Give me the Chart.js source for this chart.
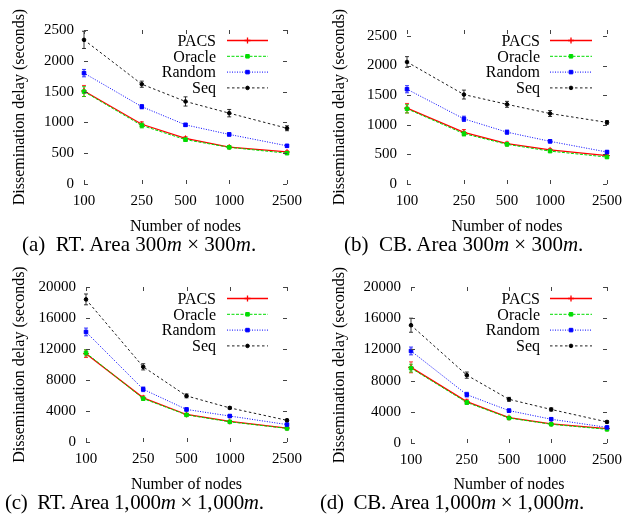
<!DOCTYPE html>
<html>
<head>
<meta charset="utf-8">
<script src="https://cdn.jsdelivr.net/npm/chart.js@4.4.0/dist/chart.umd.min.js"></script>
<style>
    body { margin: 0; background: #fff; width: 630px; height: 516px; position: relative; overflow: hidden; font-family: 'Liberation Serif', serif; }
    canvas { position: absolute; }
    .cap { position: absolute; font-size: 21px; line-height: 21px; white-space: nowrap; color: #000; }
    .cap i { font-style: italic; }
    .cap.wide { letter-spacing: -0.3px; }
    .cap .gap { margin-left: 1px; }
</style>
</head>
<body>
<canvas id="chartA" width="315" height="236" style="left:0;top:0"></canvas>
<canvas id="chartB" width="315" height="236" style="left:315px;top:0"></canvas>
<canvas id="chartC" width="315" height="236" style="left:0;top:258px"></canvas>
<canvas id="chartD" width="315" height="236" style="left:315px;top:258px"></canvas>

<div class="cap" style="left:22px;top:234px">(a)&nbsp; RT. Area 300<i>m</i> × 300<i>m</i>.</div>
<div class="cap" style="left:344px;top:234px">(b)&nbsp; CB. Area 300<i>m</i> × 300<i>m</i>.</div>
<div class="cap wide" style="left:5px;top:492px">(c)&nbsp; RT. Area 1,<span class="gap">000</span><i>m</i> × 1,<span class="gap">000</span><i>m</i>.</div>
<div class="cap wide" style="left:320px;top:492px">(d)&nbsp; CB. Area 1,<span class="gap">000</span><i>m</i> × 1,<span class="gap">000</span><i>m</i>.</div>

<script>
const nodeCounts = [100, 250, 500, 1000, 2500];
const seriesNames = ['PACS', 'Oracle', 'Random', 'Seq'];
const delayTicksSmall = [0, 500, 1000, 1500, 2000, 2500];
const delayTicksLarge = [0, 4000, 8000, 12000, 16000, 20000];

// (a) RT, 300m x 300m
const rt300Pacs = [1510, 970, 740, 600, 520];
const rt300Oracle = [1500, 950, 720, 595, 500];
const rt300Random = [1800, 1255, 960, 805, 620];
const rt300Seq = [2340, 1620, 1340, 1150, 905];
const rt300PacsErr = [90, 40, 30, 25, 20];
const rt300OracleErr = [80, 40, 30, 20, 20];
const rt300RandomErr = [60, 35, 25, 25, 20];
const rt300SeqErr = [140, 50, 75, 60, 40];

// (b) CB, 300m x 300m
const cb300Pacs = [1280, 870, 680, 575, 480];
const cb300Oracle = [1270, 850, 670, 555, 455];
const cb300Random = [1600, 1100, 875, 720, 540];
const cb300Seq = [2060, 1510, 1345, 1190, 1040];
const cb300PacsErr = [80, 50, 30, 25, 20];
const cb300OracleErr = [70, 40, 30, 20, 20];
const cb300RandomErr = [60, 45, 35, 25, 20];
const cb300SeqErr = [90, 75, 50, 50, 30];

// (c) RT, 1000m x 1000m
const rt1000Pacs = [11400, 5700, 3550, 2650, 1800];
const rt1000Oracle = [11500, 5600, 3500, 2600, 1750];
const rt1000Random = [14200, 6800, 4200, 3350, 2250];
const rt1000Seq = [18400, 9700, 5950, 4400, 2800];
const rt1000PacsErr = [500, 250, 150, 100, 80];
const rt1000OracleErr = [400, 200, 150, 100, 80];
const rt1000RandomErr = [500, 300, 200, 150, 100];
const rt1000SeqErr = [700, 400, 250, 150, 150];

// (d) CB, 1000m x 1000m
const cb1000Pacs = [9700, 5300, 3250, 2450, 1850];
const cb1000Oracle = [9600, 5200, 3200, 2400, 1750];
const cb1000Random = [11800, 6200, 4150, 3050, 2000];
const cb1000Seq = [15100, 8700, 5600, 4300, 2700];
const cb1000PacsErr = [700, 300, 150, 100, 80];
const cb1000OracleErr = [500, 250, 150, 100, 80];
const cb1000RandomErr = [500, 300, 200, 150, 100];
const cb1000SeqErr = [900, 400, 250, 200, 150];

const seriesStyles = [
    { color: '#ff0000', dash: [], point: 'cross', radius: 3, width: 1.3 },
    { color: '#00dd00', dash: [3, 1.5], point: 'rect', radius: 2.5, width: 1 },
    { color: '#0000ff', dash: [1, 1.5], point: 'rect', radius: 2.5, width: 1 },
    { color: '#000000', dash: [2.5, 2.5], point: 'circle', radius: 1.8, width: 0.9 }
];

const serif = "'Liberation Serif', 'Times New Roman', serif";

// gnuplot-like mirrored inner ticks, error bars and key
const gnuplotDecor = {
    id: 'gnuplotDecor',
    beforeDatasetsDraw(chart) {
        const ctx = chart.ctx;
        const x = chart.scales.x, y = chart.scales.y;
        ctx.save();
        chart.data.datasets.forEach((ds) => {
            ctx.strokeStyle = ds.borderColor;
            ctx.lineWidth = 0.8;
            ds.errors.forEach((e, i) => {
                const px = x.getPixelForValue(nodeCounts[i]);
                const lo = y.getPixelForValue(ds.data[i] - e);
                const hi = y.getPixelForValue(ds.data[i] + e);
                ctx.beginPath();
                ctx.moveTo(px, lo); ctx.lineTo(px, hi);
                ctx.moveTo(px - 2, lo); ctx.lineTo(px + 2, lo);
                ctx.moveTo(px - 2, hi); ctx.lineTo(px + 2, hi);
                ctx.stroke();
            });
        });
        ctx.restore();
    },
    afterDraw(chart) {
        const ctx = chart.ctx;
        const area = chart.chartArea;
        const x = chart.scales.x, y = chart.scales.y;
        ctx.save();
        ctx.strokeStyle = '#444';
        ctx.lineWidth = 1;
        ctx.beginPath();
        y.ticks.forEach(t => {
            const py = Math.round(y.getPixelForValue(t.value)) + 0.5;
            ctx.moveTo(area.left, py); ctx.lineTo(area.left + 4, py);
            ctx.moveTo(area.right, py); ctx.lineTo(area.right - 4, py);
        });
        x.ticks.forEach(t => {
            const px = Math.round(x.getPixelForValue(t.value)) + 0.5;
            ctx.moveTo(px, area.bottom); ctx.lineTo(px, area.bottom - 4);
            ctx.moveTo(px, area.top); ctx.lineTo(px, area.top + 4);
        });
        ctx.stroke();

        // key
        const key = chart.options.plugins.gnuplotDecor;
        ctx.font = '16px ' + serif;
        ctx.textAlign = 'right';
        ctx.textBaseline = 'middle';
        chart.data.datasets.forEach((ds, i) => {
            const ry = key.rowTop + i * key.rowGap;
            ctx.fillStyle = '#000';
            ctx.fillText(ds.label, key.textRight, ry + 1);
            ctx.strokeStyle = ds.borderColor;
            ctx.lineWidth = ds.borderWidth;
            ctx.setLineDash(ds.borderDash);
            ctx.beginPath();
            ctx.moveTo(key.sampleLeft, ry); ctx.lineTo(key.sampleRight, ry);
            ctx.stroke();
            ctx.setLineDash([]);
            ctx.fillStyle = ds.borderColor;
            Chart.helpers.drawPoint(ctx, {
                pointStyle: ds.pointStyle, radius: ds.pointRadius, rotation: 0, borderWidth: 1
            }, (key.sampleLeft + key.sampleRight) / 2, ry);
        });
        ctx.restore();
    }
};

function makePanel(canvasId, values, errors, yTicks, yMax, geo) {
    const datasets = seriesNames.map((name, i) => {
        const s = seriesStyles[i];
        return {
            label: name,
            data: values[i],
            errors: errors[i],
            borderColor: s.color,
            backgroundColor: s.color,
            borderWidth: s.width,
            borderDash: s.dash,
            pointStyle: s.point,
            pointRadius: s.radius,
            pointBorderWidth: 1,
            tension: 0,
            order: seriesNames.length - i,
            clip: false
        };
    });

    return new Chart(document.getElementById(canvasId), {
        type: 'line',
        data: { labels: nodeCounts, datasets: datasets },
        options: {
            responsive: false,
            animation: false,
            events: [],
            layout: {
                autoPadding: false,
                padding: { left: geo.padLeft, right: 315 - geo.right, top: geo.top, bottom: 0 }
            },
            plugins: {
                legend: { display: false },
                tooltip: { enabled: false },
                gnuplotDecor: {
                    textRight: geo.textRight, sampleLeft: geo.sampleLeft, sampleRight: geo.sampleRight,
                    rowTop: 40.5, rowGap: 15.8
                }
            },
            scales: {
                x: {
                    type: 'logarithmic',
                    min: 100,
                    max: 2500,
                    afterBuildTicks: (scale) => { scale.ticks = nodeCounts.map(v => ({ value: v })); },
                    afterFit: (scale) => { scale.height = 236 - geo.bottom; },
                    grid: { display: false, drawTicks: false },
                    border: { display: false },
                    ticks: {
                        autoSkip: false, maxRotation: 0, padding: 8, color: '#000',
                        font: { family: serif, size: 15 },
                        callback: (v) => String(v)
                    },
                    title: {
                        display: true, text: 'Number of nodes', color: '#000',
                        font: { family: serif, size: 16 }, padding: 0
                    }
                },
                y: {
                    min: 0,
                    max: yMax,
                    afterBuildTicks: (scale) => { scale.ticks = yTicks.map(v => ({ value: v })); },
                    afterFit: (scale) => { scale.width = geo.left - geo.padLeft; },
                    grid: { display: false, drawTicks: false },
                    border: { display: false },
                    ticks: {
                        padding: 10, color: '#000',
                        font: { family: serif, size: 15 },
                        callback: (v) => String(v)
                    },
                    title: {
                        display: true, text: 'Dissemination delay (seconds)', color: '#000',
                        font: { family: serif, size: 16 }, padding: 0
                    }
                }
            }
        },
        plugins: [gnuplotDecor]
    });
}

const leftKey = { textRight: 216, sampleLeft: 227, sampleRight: 268 };
const rightKey = { textRight: 225, sampleLeft: 235, sampleRight: 277 };

makePanel('chartA',
    [rt300Pacs, rt300Oracle, rt300Random, rt300Seq],
    [rt300PacsErr, rt300OracleErr, rt300RandomErr, rt300SeqErr],
    delayTicksSmall, 2500,
    Object.assign({ padLeft: 10, left: 84, right: 287, top: 30, bottom: 184 }, leftKey));

makePanel('chartB',
    [cb300Pacs, cb300Oracle, cb300Random, cb300Seq],
    [cb300PacsErr, cb300OracleErr, cb300RandomErr, cb300SeqErr],
    delayTicksSmall, 2600,
    Object.assign({ padLeft: 15, left: 92, right: 293, top: 30, bottom: 184 }, rightKey));

makePanel('chartC',
    [rt1000Pacs, rt1000Oracle, rt1000Random, rt1000Seq],
    [rt1000PacsErr, rt1000OracleErr, rt1000RandomErr, rt1000SeqErr],
    delayTicksLarge, 20000,
    Object.assign({ padLeft: 10, left: 86, right: 287, top: 29, bottom: 184 }, leftKey));

makePanel('chartD',
    [cb1000Pacs, cb1000Oracle, cb1000Random, cb1000Seq],
    [cb1000PacsErr, cb1000OracleErr, cb1000RandomErr, cb1000SeqErr],
    delayTicksLarge, 20000,
    Object.assign({ padLeft: 15, left: 96, right: 294, top: 29, bottom: 185 }, rightKey));
</script>
</body>
</html>
